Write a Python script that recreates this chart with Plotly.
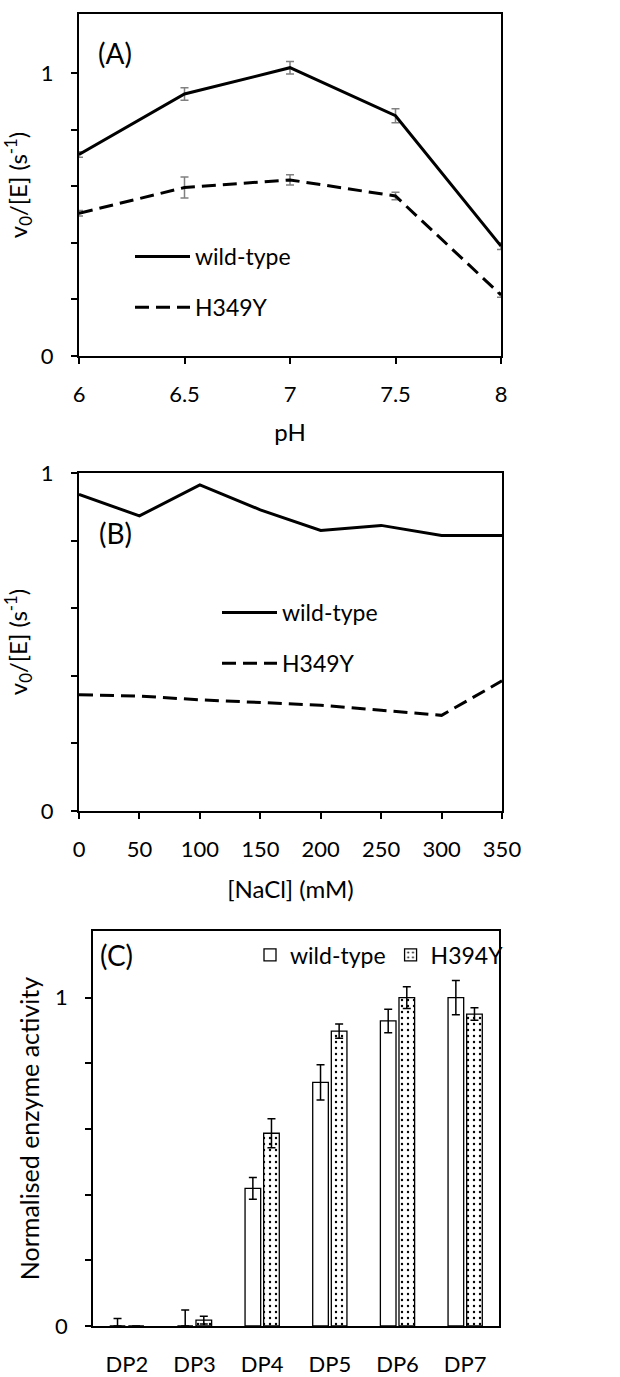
import plotly.graph_objects as go

# ---------------- data ----------------
ph = [6, 6.5, 7, 7.5, 8]
ph_wt = [0.713, 0.927, 1.02, 0.85, 0.389]
ph_wt_err = [0.01, 0.022, 0.022, 0.025, 0.012]
ph_mut = [0.505, 0.596, 0.623, 0.566, 0.216]
ph_mut_err = [0.01, 0.037, 0.018, 0.013, 0.008]
ph_ticks = [6, 6.5, 7, 7.5, 8]
ph_ticktext = ["6", "6.5", "7", "7.5", "8"]

nacl = [0, 50, 100, 150, 200, 250, 300, 350]
nacl_wt = [0.937, 0.873, 0.965, 0.891, 0.830, 0.845, 0.815, 0.815]
nacl_mut = [0.344, 0.340, 0.329, 0.320, 0.313, 0.298, 0.283, 0.385]

dp = ["DP2", "DP3", "DP4", "DP5", "DP6", "DP7"]
dp_wt = [0, 0, 0.419, 0.742, 0.929, 1.0]
dp_wt_err = [0.023, 0.049, 0.033, 0.054, 0.036, 0.052]
dp_mut = [0, 0.018, 0.587, 0.898, 1.0, 0.950]
dp_mut_err = [0, 0.012, 0.044, 0.022, 0.033, 0.019]

y_major = [0, 1]
y_minor = [0.2, 0.4, 0.6, 0.8]

W, H = 620, 1377
FONT = "Lato, 'Open Sans', sans-serif"


def xd(a, b):
    return [a / W, b / W]


def yd(top, bottom):
    return [1 - bottom / H, 1 - top / H]


fig = go.Figure()

# ---- Panel A ----
fig.add_trace(go.Scatter(
    x=ph, y=ph_wt, mode="lines", name="wild-type",
    line=dict(color="black", width=3),
    error_y=dict(type="data", array=ph_wt_err, color="#808080", thickness=1.5, width=4),
    xaxis="x", yaxis="y", legend="legend", legendgroup="a1"))
fig.add_trace(go.Scatter(
    x=ph, y=ph_mut, mode="lines", name="H349Y",
    line=dict(color="black", width=3, dash="14px,7px"),
    error_y=dict(type="data", array=ph_mut_err, color="#808080", thickness=1.5, width=4),
    xaxis="x", yaxis="y", legend="legend", legendgroup="a2"))

# ---- Panel B ----
fig.add_trace(go.Scatter(
    x=nacl, y=nacl_wt, mode="lines", name="wild-type",
    line=dict(color="black", width=3),
    xaxis="x2", yaxis="y2", legend="legend2", legendgroup="b1"))
fig.add_trace(go.Scatter(
    x=nacl, y=nacl_mut, mode="lines", name="H349Y",
    line=dict(color="black", width=3, dash="14px,7px"),
    xaxis="x2", yaxis="y2", legend="legend2", legendgroup="b2"))

# ---- Panel C ----
fig.add_trace(go.Bar(
    x=dp, y=dp_wt, name="wild-type",
    marker=dict(color="white", line=dict(color="black", width=1.3)),
    error_y=dict(type="data", array=dp_wt_err,
                 arrayminus=[0 if v == 0 else e for v, e in zip(dp_wt, dp_wt_err)],
                 symmetric=False, color="black", thickness=1.5, width=4),
    xaxis="x3", yaxis="y3", legend="legend3"))
fig.add_trace(go.Bar(
    x=dp, y=dp_mut, name="H394Y",
    marker=dict(color="white", line=dict(color="black", width=1.3),
                pattern=dict(shape=".", fgcolor="black", bgcolor="white", size=6, solidity=0.12)),
    error_y=dict(type="data", array=dp_mut_err, color="black", thickness=1.5, width=4),
    xaxis="x3", yaxis="y3", legend="legend3"))

TICK = dict(size=22, color="black", family=FONT)
axis_common = dict(showline=True, linecolor="black", linewidth=2, mirror=True,
                   showgrid=False, zeroline=False, ticks="outside", ticklen=6,
                   tickcolor="black", tickwidth=2, automargin=False, tickfont=TICK)
yminor = dict(tickvals=y_minor, ticks="outside", ticklen=6, tickwidth=2,
              tickcolor="black", showgrid=False)
title_font = dict(size=24, color="black", family=FONT)
ylabel = "v<sub>0</sub>/[E] (s<sup>-1</sup>)"
LEG = dict(size=23, color="black", family=FONT)

fig.update_layout(
    width=W, height=H, template="none",
    margin=dict(l=0, r=0, t=0, b=0),
    paper_bgcolor="white", plot_bgcolor="white",
    font=dict(family=FONT, color="black", size=22),
    barmode="group", bargap=0.45, bargroupgap=0.16,
    xaxis=dict(axis_common, domain=xd(79, 501), anchor="y", range=[6, 8],
               tickvals=ph_ticks, ticktext=ph_ticktext, ticklabelstandoff=12,
               title=dict(text="pH", font=title_font, standoff=18)),
    yaxis=dict(axis_common, domain=yd(14, 356), anchor="x", range=[0, 1.21],
               tickvals=y_major, ticklabelstandoff=13, minor=yminor,
               title=dict(text=ylabel, font=title_font, standoff=8)),
    xaxis2=dict(axis_common, domain=xd(79, 502), anchor="y2", range=[0, 350],
                tickvals=nacl, ticklabelstandoff=12,
                title=dict(text="[NaCl] (mM)", font=title_font, standoff=20)),
    yaxis2=dict(axis_common, domain=yd(473, 811), anchor="x2", range=[0, 1],
                tickvals=y_major, ticklabelstandoff=13, minor=yminor,
                title=dict(text=ylabel, font=title_font, standoff=8)),
    xaxis3=dict(axis_common, domain=xd(93, 499), anchor="y3", ticks="", linewidth=1.5,
                ticklabelstandoff=18),
    yaxis3=dict(axis_common, domain=yd(931, 1326), anchor="x3", range=[0, 1.203],
                linewidth=1.5, tickwidth=1.5, minor=dict(yminor, tickwidth=1.5),
                tickvals=y_major, ticklabelstandoff=13,
                title=dict(text="Normalised enzyme activity",
                           font=dict(title_font, size=25), standoff=8)),
    legend=dict(x=130 / W, y=1 - 235 / H, xanchor="left", yanchor="top",
                bgcolor="rgba(0,0,0,0)", itemwidth=55, tracegroupgap=18, font=LEG),
    legend2=dict(x=217 / W, y=1 - 591 / H, xanchor="left", yanchor="top",
                 bgcolor="rgba(0,0,0,0)", itemwidth=55, tracegroupgap=18, font=LEG),
    legend3=dict(x=250 / W, y=1 - 955 / H, xanchor="left", yanchor="middle",
                 orientation="h", bgcolor="rgba(0,0,0,0)", font=LEG),
    annotations=[
        dict(text="(A)", x=115 / W, y=1 - 53 / H, xref="paper", yref="paper",
             xanchor="center", yanchor="middle", showarrow=False,
             font=dict(size=28, color="black", family=FONT)),
        dict(text="(B)", x=115 / W, y=1 - 533 / H, xref="paper", yref="paper",
             xanchor="center", yanchor="middle", showarrow=False,
             font=dict(size=28, color="black", family=FONT)),
        dict(text="(C)", x=116 / W, y=1 - 955 / H, xref="paper", yref="paper",
             xanchor="center", yanchor="middle", showarrow=False,
             font=dict(size=28, color="black", family=FONT)),
    ],
)

fig.write_html("out.html")
